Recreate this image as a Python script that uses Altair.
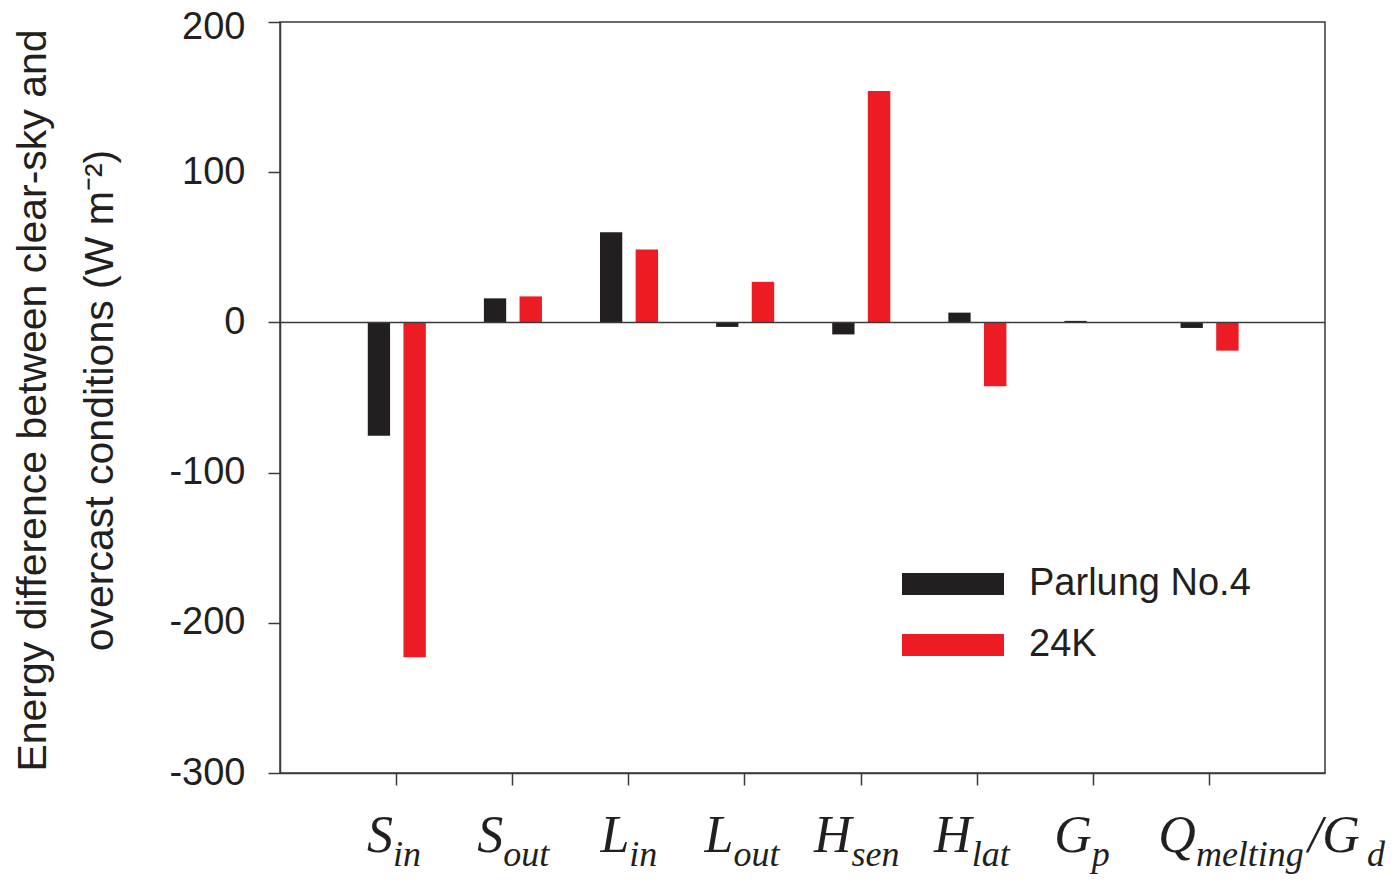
import altair as alt
import pandas as pd

# ---------------- data ----------------
CATEGORIES = ["S_in", "S_out", "L_in", "L_out", "H_sen", "H_lat", "G_p", "Q_melting/G_d"]
MAIN_LETTERS = ["S", "S", "L", "L", "H", "H", "G", "Q"]
SUBSCRIPTS = ["in", "out", "in", "out", "sen", "lat", "p", "melting"]
EXTRA_MAIN = "/G"      # follows "Q_melting"
EXTRA_SUB = "d"
SERIES = ["Parlung No.4", "24K"]
PARLUNG = [-75.5, 16, 60, -3, -8, 6.5, 1, -3.7]
K24 = [-223, 17.3, 48.5, 27, 154, -42.5, 0, -18.8]
Y_TICKS = [-300, -200, -100, 0, 100, 200]
Y_TITLE = ["Energy difference between clear-sky and", "overcast conditions (W m\u207b\u00b2)"]

# ---------------- layout / style ----------------
W, H = 1045, 751
XMAX = 9
PXU = W / XMAX
COLORS = ["#231f20", "#ed1c24"]
BAR_SPAN = {"Parlung No.4": (-0.244, -0.052), "24K": (0.063, 0.256)}
JUNCTION_PX = [-3, -9, 1, -11, -9, -5, -1, -13]   # main letter end / subscript start
EXTRA_MAIN_PX = 99
EXTRA_SUB_PX = 158
FRAME = "#3a3a3a"
TXT = "#231f20"

rows = []
for i, cat in enumerate(CATEGORIES):
    pos = i + 1
    for s, vals in zip(SERIES, [PARLUNG, K24]):
        a, b = BAR_SPAN[s]
        rows.append({"cat": cat, "series": s, "value": vals[i], "x0": pos + a, "x1": pos + b})
bars_df = pd.DataFrame(rows)

main_df = pd.DataFrame({"x": [i + 1 + JUNCTION_PX[i] / PXU for i in range(len(CATEGORIES))],
                        "t": MAIN_LETTERS})
sub_df = pd.DataFrame({"x": [i + 1 + JUNCTION_PX[i] / PXU for i in range(len(CATEGORIES))]
                       + [len(CATEGORIES) + EXTRA_SUB_PX / PXU],
                       "t": SUBSCRIPTS + [EXTRA_SUB]})
extra_df = pd.DataFrame({"x": [len(CATEGORIES) + EXTRA_MAIN_PX / PXU], "t": [EXTRA_MAIN]})
zero_df = pd.DataFrame({"x0": [0], "x1": [XMAX], "y": [0]})

xscale = alt.Scale(domain=[0, XMAX], nice=False, zero=False)
yscale = alt.Scale(domain=[-300, 200], nice=False)
x_axis = alt.Axis(values=list(range(1, len(CATEGORIES) + 1)), labels=False, title=None,
                  grid=False, tickSize=12)
y_axis = alt.Axis(values=Y_TICKS, tickSize=12, grid=False,
                  labelFont="Liberation Sans", labelFontSize=38, labelColor=TXT,
                  labelPadding=23, labelExpr="datum.value + ''",
                  labelOffset={"condition": {"test": "datum.value == 200", "value": 5}, "value": 0},
                  title=Y_TITLE, titleFont="Liberation Sans", titleFontSize=41,
                  titleFontWeight="normal", titleColor=TXT, titleAngle=270,
                  titleAlign="center", titleBaseline="alphabetic",
                  titleX=-235, titleY=378, titleLineHeight=67)

legend = alt.Legend(title=None, orient="none", legendX=654, legendY=543,
                    symbolType="M-4.636,-1H4.636V1H-4.636Z", symbolSize=484,
                    symbolStrokeWidth=0, labelFont="Liberation Sans", labelFontSize=38,
                    labelColor=TXT, labelOffset=57, labelLimit=500, rowPadding=23, padding=0)

bars = alt.Chart(bars_df).mark_bar(strokeWidth=0).encode(
    x=alt.X("x0:Q", scale=xscale, axis=x_axis),
    x2="x1:Q",
    y=alt.Y("value:Q", scale=yscale, axis=y_axis),
    y2=alt.datum(0),
    color=alt.Color("series:N", scale=alt.Scale(domain=SERIES, range=COLORS), legend=legend),
)

zero = alt.Chart(zero_df).mark_rule(color=FRAME, strokeWidth=1.5).encode(
    x=alt.X("x0:Q", scale=xscale, axis=x_axis),
    x2="x1:Q",
    y=alt.Y("y:Q", scale=yscale, axis=y_axis),
)

main_txt = alt.Chart(main_df).mark_text(
    align="right", baseline="alphabetic", font="Liberation Serif", fontStyle="italic",
    fontSize=52, color=TXT).encode(
    x=alt.X("x:Q", scale=xscale, axis=x_axis), y=alt.value(H + 79), text="t:N")

extra_txt = alt.Chart(extra_df).mark_text(
    align="left", baseline="alphabetic", font="Liberation Serif", fontStyle="italic",
    fontSize=52, color=TXT).encode(
    x=alt.X("x:Q", scale=xscale, axis=x_axis), y=alt.value(H + 79), text="t:N")

sub_txt = alt.Chart(sub_df).mark_text(
    align="left", baseline="alphabetic", font="Liberation Serif", fontStyle="italic",
    fontSize=36, color=TXT).encode(
    x=alt.X("x:Q", scale=xscale, axis=x_axis), y=alt.value(H + 93), text="t:N")

chart = alt.layer(bars, zero, main_txt, extra_txt, sub_txt).properties(
    width=W, height=H,
    autosize=alt.AutoSizeParams(type="none"),
    padding={"left": 272, "top": 14, "right": 67, "bottom": 103},
).configure_view(
    stroke=FRAME, strokeWidth=1.5
).configure_axis(
    domainColor=FRAME, domainWidth=1.5, tickColor=FRAME, tickWidth=1.5
)

chart.save("out.html", embed_options={"renderer": "svg", "actions": False})
